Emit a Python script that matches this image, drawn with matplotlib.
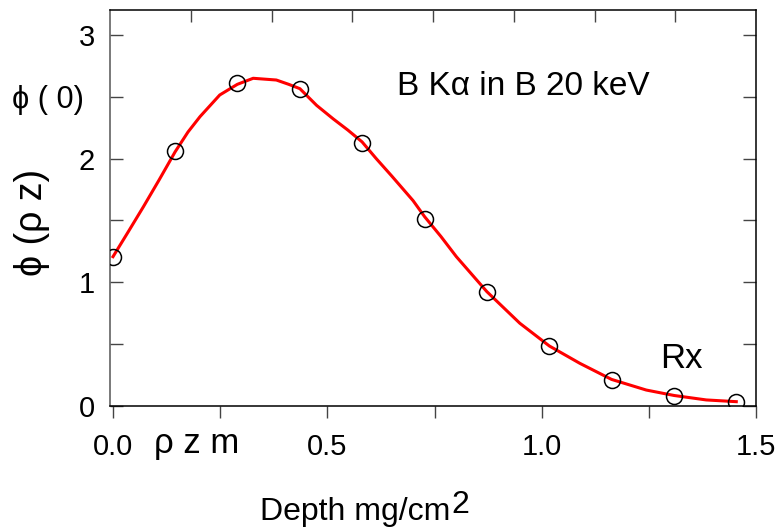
import numpy as np
import matplotlib
matplotlib.use("Agg")
import matplotlib.pyplot as plt
from matplotlib.ticker import FixedLocator

plt.rcParams['font.family'] = ['Liberation Sans', 'DejaVu Sans']

# measured points (open circles)
depth_pts = [0.0, 0.145, 0.290, 0.436, 0.581, 0.727, 0.872, 1.018, 1.163, 1.309, 1.454]
phi_pts = [1.207, 2.059, 2.611, 2.560, 2.129, 1.509, 0.922, 0.483, 0.208, 0.081, 0.032]

# fitted curve (red)
depth_fit = [0.0, 0.035, 0.071, 0.108, 0.145, 0.175, 0.203, 0.249, 0.290, 0.327, 0.381,
             0.410, 0.436, 0.475, 0.514, 0.548, 0.581, 0.614, 0.650, 0.700, 0.727,
             0.765, 0.801, 0.872, 0.949, 1.018, 1.089, 1.163, 1.244, 1.309, 1.384, 1.454]
phi_fit = [1.207, 1.405, 1.611, 1.830, 2.055, 2.215, 2.339, 2.514, 2.600, 2.649, 2.635,
           2.600, 2.565, 2.430, 2.320, 2.230, 2.135, 2.000, 1.860, 1.660, 1.530,
           1.370, 1.207, 0.925, 0.669, 0.485, 0.345, 0.215, 0.129, 0.085, 0.049, 0.035]

x_major = [0.0, 0.5, 1.0, 1.5]
x_major_labels = ['0.0', '0.5', '1.0', '1.5']
x_minor = [0.25, 0.75, 1.25]
y_major = [0, 1, 2, 3]
y_major_labels = ['0', '1', '2', '3']
y_minor = [0.5, 1.5, 2.5]

W, H = 777, 529
fig = plt.figure(figsize=(W / 100, H / 100), dpi=100)
ax = fig.add_axes([110 / W, 1 - 406 / H, (756 - 110) / W, (406 - 9.5) / H])

ax.plot(depth_fit, phi_fit, color='#ff0000', lw=2.2, zorder=2,
        solid_joinstyle='round')
ax.plot(depth_pts, phi_pts, linestyle='none', marker='o', markersize=11.5,
        markerfacecolor='none', markeredgecolor='black', markeredgewidth=1.1, zorder=3)

ax.set_xlim(-0.007, 1.5)
ax.set_ylim(0, 3.205)

ax.xaxis.set_major_locator(FixedLocator(x_major))
ax.xaxis.set_minor_locator(FixedLocator(x_minor))
ax.set_xticklabels(x_major_labels)
ax.yaxis.set_major_locator(FixedLocator(y_major))
ax.yaxis.set_minor_locator(FixedLocator(y_minor))
ax.set_yticklabels(y_major_labels)

tick_col = '#444444'
ax.tick_params(axis='x', which='both', direction='out', length=8.6, width=1.0,
               color=tick_col, top=False, bottom=True, labelsize=21, pad=11)
ax.tick_params(axis='y', which='both', direction='in', length=9.3, width=1.0,
               color=tick_col, left=True, right=True, labelsize=21, pad=11)

for side in ['left', 'right', 'top', 'bottom']:
    ax.spines[side].set_linewidth(1.1)
ax.spines['left'].set_color('#555555')

# top axis: 8 equal divisions
ax2 = ax.twiny()
ax2.set_xlim(0, 1)
ax2.xaxis.set_major_locator(FixedLocator(np.arange(1, 8) / 8))
ax2.tick_params(axis='x', which='both', direction='in', length=8.6, width=1.0,
                color=tick_col, top=True, bottom=False, labeltop=False, labelbottom=False)
for s in ax2.spines.values():
    s.set_visible(False)

# texts
fig.text(397 / W, 1 - 95 / H, 'B K\u03b1 in B 20 keV', fontsize=24,
         ha='left', va='baseline')
fig.text(660 / W, 1 - 368 / H, 'Rx', fontsize=25, ha='left', va='baseline')
fig.text(154 / W, 1 - 453 / H, '\u03c1 z m', fontsize=25, ha='left', va='baseline')
fig.text(12 / W, 1 - 108 / H, '\u03d5 ( 0)', fontsize=22, ha='left', va='baseline')
fig.text(32 / W, 1 - 222 / H, '\u03d5 (\u03c1 z)', fontsize=27, rotation=90,
         ha='center', va='center')
t = fig.text(260 / W, 1 - 520 / H, 'Depth mg/cm', fontsize=23, ha='left', va='baseline')
ax.annotate('2', xy=(1, 0), xycoords=t, xytext=(0.5, 10), textcoords='offset points',
            fontsize=23, ha='left', va='baseline', annotation_clip=False)

fig.savefig('out.png', dpi=100)
